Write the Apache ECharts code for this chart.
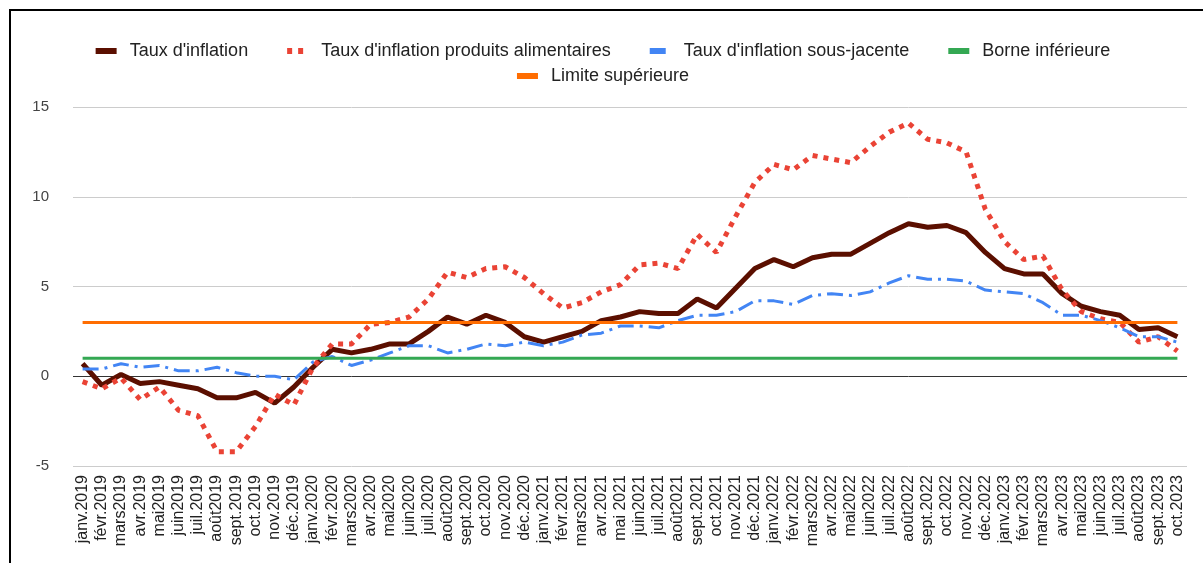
<!DOCTYPE html>
<html>
<head>
<meta charset="utf-8">
<title>Taux d'inflation</title>
<script src="https://cdn.jsdelivr.net/npm/echarts@6/dist/echarts.min.js"></script>
<style>
html, body { margin: 0; padding: 0; background: #fff; }
#main { position: absolute; left: 0; top: 0; width: 1203px; height: 563px; }
#frame { position: absolute; left: 9px; top: 9px; width: 1194px; height: 554px;
         border-top: 2px solid #000; border-left: 2px solid #000; pointer-events: none; }
</style>
</head>
<body>
<div id="main"></div>
<div id="frame"></div>
<script>
// mois (axe des x)
var mois = [
    'janv.2019','févr.2019','mars2019','avr.2019','mai2019','juin2019','juil.2019','août2019','sept.2019','oct.2019','nov.2019','déc.2019',
    'janv.2020','févr.2020','mars2020','avr.2020','mai2020','juin2020','juil.2020','août2020','sept.2020','oct.2020','nov.2020','déc.2020',
    'janv.2021','févr.2021','mars2021','avr.2021','mai 2021','juin2021','juil.2021','août2021','sept.2021','oct.2021','nov.2021','déc.2021',
    'janv.2022','févr.2022','mars2022','avr.2022','mai2022','juin2022','juil.2022','août2022','sept.2022','oct.2022','nov.2022','déc.2022',
    'janv.2023','févr.2023','mars2023','avr.2023','mai2023','juin2023','juil.2023','août2023','sept.2023','oct.2023'
];

var inflation = [
    0.7, -0.5, 0.1, -0.4, -0.3, -0.5, -0.7, -1.2, -1.2, -0.9, -1.5, -0.6,
    0.5, 1.5, 1.3, 1.5, 1.8, 1.8, 2.5, 3.3, 2.9, 3.4, 3.0, 2.2,
    1.9, 2.2, 2.5, 3.1, 3.3, 3.6, 3.5, 3.5, 4.3, 3.8, 4.9, 6.0,
    6.5, 6.1, 6.6, 6.8, 6.8, 7.4, 8.0, 8.5, 8.3, 8.4, 8.0, 6.9,
    6.0, 5.7, 5.7, 4.6, 3.9, 3.6, 3.4, 2.6, 2.7, 2.2
];

var inflationAlim = [
    -0.3, -0.7, -0.1, -1.3, -0.6, -1.9, -2.2, -4.2, -4.2, -2.8, -1.0, -1.6,
    0.5, 1.8, 1.8, 2.9, 3.0, 3.3, 4.3, 5.8, 5.5, 6.0, 6.1, 5.5,
    4.6, 3.8, 4.1, 4.7, 5.1, 6.2, 6.3, 6.0, 7.9, 6.9, 8.9, 10.8,
    11.8, 11.5, 12.3, 12.1, 11.9, 12.8, 13.6, 14.1, 13.2, 13.0, 12.5, 9.3,
    7.5, 6.5, 6.7, 4.8, 3.6, 3.2, 3.0, 1.9, 2.2, 1.4
];

var inflationSJ = [
    0.4, 0.4, 0.7, 0.5, 0.6, 0.3, 0.3, 0.5, 0.2, 0.0, 0.0, -0.2,
    0.8, 1.1, 0.6, 0.9, 1.3, 1.7, 1.7, 1.3, 1.5, 1.8, 1.7, 1.9,
    1.7, 1.9, 2.3, 2.4, 2.8, 2.8, 2.7, 3.1, 3.4, 3.4, 3.6, 4.2,
    4.2, 4.0, 4.5, 4.6, 4.5, 4.7, 5.2, 5.6, 5.4, 5.4, 5.3, 4.8,
    4.7, 4.6, 4.1, 3.4, 3.4, 3.1, 2.7, 2.2, 2.2, 1.9
];

var borneInf = [
    1, 1, 1, 1, 1, 1, 1, 1, 1, 1, 1, 1,
    1, 1, 1, 1, 1, 1, 1, 1, 1, 1, 1, 1,
    1, 1, 1, 1, 1, 1, 1, 1, 1, 1, 1, 1,
    1, 1, 1, 1, 1, 1, 1, 1, 1, 1, 1, 1,
    1, 1, 1, 1, 1, 1, 1, 1, 1, 1
];

var limiteSup = [
    3, 3, 3, 3, 3, 3, 3, 3, 3, 3, 3, 3,
    3, 3, 3, 3, 3, 3, 3, 3, 3, 3, 3, 3,
    3, 3, 3, 3, 3, 3, 3, 3, 3, 3, 3, 3,
    3, 3, 3, 3, 3, 3, 3, 3, 3, 3, 3, 3,
    3, 3, 3, 3, 3, 3, 3, 3, 3, 3
];

var yTicks = { min: -5, max: 15, interval: 5 };

var myChart = echarts.init(document.getElementById('main'));
window.addEventListener('resize', function () { myChart.resize(); }, false);

var option = {
    animation: false,
    textStyle: { fontFamily: 'Arial, "Liberation Sans", sans-serif' },
    legend: [
        {
            top: 37,
            left: 'center',
            itemWidth: 21,
            itemHeight: 14,
            itemGap: 36,
            itemStyle: { opacity: 0 },
            lineStyle: { width: 6 },
            textStyle: { fontSize: 18, color: '#222', padding: [0, 0, 0, 8] },
            data: ["Taux d'inflation", "Taux d'inflation produits alimentaires", "Taux d'inflation sous-jacente", 'Borne inférieure']
        },
        {
            top: 62,
            left: 'center',
            itemWidth: 21,
            itemHeight: 14,
            itemStyle: { opacity: 0 },
            lineStyle: { width: 6 },
            textStyle: { fontSize: 18, color: '#222', padding: [0, 0, 0, 8] },
            data: ['Limite supérieure']
        }
    ],
    grid: { left: 73, right: 16, top: 107, bottom: 97 },
    xAxis: {
        type: 'category',
        data: mois,
        boundaryGap: true,
        axisLine: { show: false },
        axisTick: { show: false },
        axisLabel: { interval: 0, rotate: 90, fontSize: 16, color: '#222', margin: 9 }
    },
    yAxis: {
        type: 'value',
        min: yTicks.min,
        max: yTicks.max,
        interval: yTicks.interval,
        axisLine: { show: false },
        axisTick: { show: false },
        axisLabel: { fontSize: 15, color: '#444', margin: 24 },
        splitLine: { lineStyle: { color: ['#cccccc', '#333333', '#cccccc', '#cccccc', '#cccccc'], width: 1 } }
    },
    series: [
        {
            name: "Taux d'inflation",
            type: 'line',
            symbol: 'none',
            data: inflation,
            lineStyle: { color: '#5b0f00', width: 5 },
            itemStyle: { color: '#5b0f00' }
        },
        {
            name: "Taux d'inflation produits alimentaires",
            type: 'line',
            symbol: 'none',
            data: inflationAlim,
            lineStyle: { color: '#ea4335', width: 5, type: [5, 6], cap: 'butt' },
            itemStyle: { color: '#ea4335' }
        },
        {
            name: "Taux d'inflation sous-jacente",
            type: 'line',
            symbol: 'none',
            data: inflationSJ,
            lineStyle: { color: '#4285f4', width: 3, type: [16, 6, 3, 6] },
            itemStyle: { color: '#4285f4' }
        },
        {
            name: 'Borne inférieure',
            type: 'line',
            symbol: 'none',
            data: borneInf,
            lineStyle: { color: '#34a853', width: 3 },
            itemStyle: { color: '#34a853' }
        },
        {
            name: 'Limite supérieure',
            type: 'line',
            symbol: 'none',
            data: limiteSup,
            lineStyle: { color: '#ff6d01', width: 3 },
            itemStyle: { color: '#ff6d01' }
        }
    ]
};

myChart.setOption(option);
</script>
</body>
</html>
